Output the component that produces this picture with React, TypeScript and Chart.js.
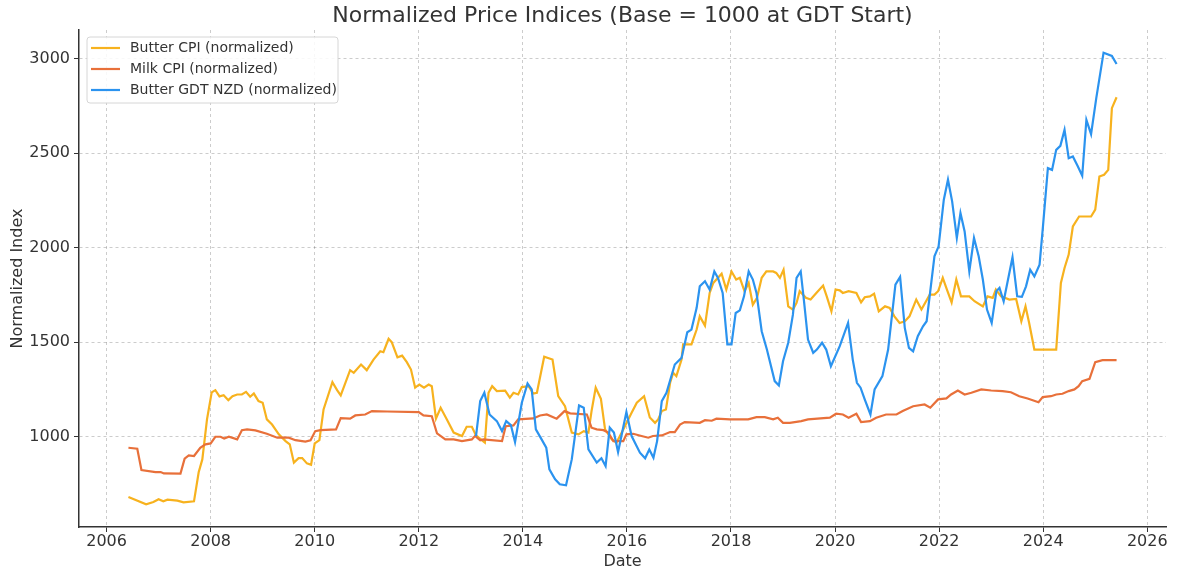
import React, { useEffect, useRef } from "react";
import { Chart, registerables } from "chart.js";

Chart.register(...registerables);

const chartTitle = "Normalized Price Indices (Base = 1000 at GDT Start)";
const xAxisTitle = "Date";
const yAxisTitle = "Normalized Index";
const seriesNames = ["Butter CPI (normalized)", "Milk CPI (normalized)", "Butter GDT NZD (normalized)"];
const seriesColors = ["#f7b21e", "#e8703a", "#2b93ef"];

const xTicks = [2006, 2008, 2010, 2012, 2014, 2016, 2018, 2020, 2022, 2024, 2026];
const yTicks = [1000, 1500, 2000, 2500, 3000];

const butterCpiDates = [
  2006.42, 2006.76, 2006.9, 2007.0, 2007.09, 2007.17, 2007.36, 2007.48, 2007.68, 2007.77, 2007.84, 2007.93,
  2008.02, 2008.09, 2008.17, 2008.25, 2008.34, 2008.42, 2008.51, 2008.6, 2008.68, 2008.76, 2008.83, 2008.92,
  2009.0, 2009.08, 2009.18, 2009.31, 2009.44, 2009.52, 2009.6, 2009.69, 2009.76, 2009.85, 2009.93,
  2010.0, 2010.09, 2010.17, 2010.34, 2010.43, 2010.5, 2010.68, 2010.75, 2010.89,
  2011.0, 2011.13, 2011.26, 2011.32, 2011.42, 2011.48, 2011.59, 2011.68, 2011.77, 2011.85, 2011.93,
  2012.01, 2012.1, 2012.19, 2012.25, 2012.33, 2012.42, 2012.54, 2012.67, 2012.83, 2012.92,
  2013.02, 2013.1, 2013.27, 2013.34, 2013.41, 2013.5, 2013.66, 2013.75, 2013.82, 2013.91, 2013.98,
  2014.11, 2014.2, 2014.27, 2014.41, 2014.57, 2014.68, 2014.81, 2014.94,
  2015.07, 2015.17, 2015.26, 2015.32, 2015.4, 2015.5, 2015.58, 2015.71, 2015.8, 2015.93,
  2016.09, 2016.19, 2016.33, 2016.44, 2016.54, 2016.6, 2016.67, 2016.75, 2016.83, 2016.89, 2016.95,
  2017.05, 2017.08, 2017.24, 2017.34, 2017.4, 2017.5, 2017.59, 2017.66, 2017.75, 2017.82, 2017.91,
  2018.01, 2018.1, 2018.17, 2018.26, 2018.34, 2018.42, 2018.5, 2018.59, 2018.68, 2018.81, 2018.87, 2018.94,
  2019.01, 2019.1, 2019.19, 2019.26, 2019.32, 2019.44, 2019.53, 2019.64, 2019.77, 2019.84, 2019.93,
  2020.01, 2020.09, 2020.15, 2020.26, 2020.41, 2020.5, 2020.57, 2020.67, 2020.75, 2020.84, 2020.96,
  2021.05, 2021.14, 2021.24, 2021.34, 2021.43, 2021.56, 2021.66, 2021.82, 2021.91, 2021.98,
  2022.07, 2022.15, 2022.24, 2022.33, 2022.42, 2022.58, 2022.68, 2022.84, 2022.93,
  2023.03, 2023.09, 2023.19, 2023.35, 2023.48, 2023.58, 2023.66, 2023.73, 2023.83,
  2024.18, 2024.25, 2024.34, 2024.41, 2024.49, 2024.57, 2024.69, 2024.92,
  2025.0, 2025.08, 2025.17, 2025.25, 2025.32, 2025.41,
];
const butterCpiValues = [
  679, 640, 652, 667, 656, 665, 660, 651, 656, 810, 878, 1090,
  1233, 1245, 1212, 1218, 1192, 1213, 1222, 1222, 1236, 1210, 1227, 1187,
  1178, 1090, 1063, 1011, 975, 958, 861, 885, 885, 857, 850,
  963, 980, 1143, 1287, 1245, 1217, 1351, 1337, 1381,
  1351, 1407, 1451, 1446, 1517, 1499, 1419, 1428, 1393, 1354, 1258,
  1275, 1258, 1275, 1266, 1094, 1152, 1090, 1020, 1002, 1051,
  1051, 1005, 967, 1231, 1266, 1240, 1243, 1205, 1231, 1222, 1261,
  1266, 1227, 1231, 1422, 1407, 1213, 1160, 1020,
  1011, 1028, 1020, 1134, 1258, 1199, 1037, 984, 967, 1037,
  1125, 1178, 1213, 1100, 1072, 1090, 1134, 1143, 1284, 1337, 1319,
  1407, 1487, 1487, 1566, 1636, 1587, 1760, 1813, 1840, 1862, 1778,
  1874, 1831, 1840, 1769, 1813, 1698, 1734, 1840, 1874, 1874, 1866, 1840,
  1883, 1689, 1672, 1707, 1769, 1734, 1725, 1760, 1799, 1742, 1663,
  1778, 1774, 1760, 1769, 1760, 1710, 1737, 1742, 1756, 1663, 1689,
  1681, 1636, 1601, 1610, 1636, 1725, 1672, 1751, 1751, 1769,
  1840, 1778, 1710, 1831, 1742, 1742, 1716, 1689, 1742,
  1734, 1778, 1742, 1725, 1728, 1610, 1689, 1601, 1460,
  1460, 1460, 1813, 1892, 1963, 2112, 2165, 2165,
  2201, 2377, 2386, 2412, 2739, 2797,
];

const milkCpiDates = [
  2006.42, 2006.59, 2006.67, 2006.94, 2007.04, 2007.1, 2007.42, 2007.5, 2007.58, 2007.68, 2007.8, 2007.9,
  2008.0, 2008.09, 2008.19, 2008.26, 2008.35, 2008.51, 2008.6, 2008.7, 2008.86,
  2009.08, 2009.28, 2009.5, 2009.63, 2009.82, 2009.92,
  2010.01, 2010.11, 2010.41, 2010.5, 2010.68, 2010.78, 2010.97,
  2011.1, 2011.39, 2012.0, 2012.09, 2012.25, 2012.35, 2012.51, 2012.67, 2012.83,
  2013.02, 2013.08, 2013.18, 2013.24, 2013.6, 2013.67, 2013.82, 2013.91,
  2014.2, 2014.33, 2014.46, 2014.65, 2014.8, 2014.91,
  2015.23, 2015.32, 2015.42, 2015.55, 2015.64, 2015.74, 2015.93, 2015.99,
  2016.12, 2016.28, 2016.41, 2016.5, 2016.67, 2016.83, 2016.92,
  2017.02, 2017.11, 2017.4, 2017.5, 2017.63, 2017.72, 2017.98,
  2018.33, 2018.49, 2018.65, 2018.81, 2018.9, 2019.0, 2019.13, 2019.35, 2019.48, 2019.9,
  2020.02, 2020.15, 2020.26, 2020.41, 2020.5, 2020.67, 2020.79, 2020.98,
  2021.18, 2021.3, 2021.5, 2021.72, 2021.83, 2021.98,
  2022.14, 2022.23, 2022.36, 2022.49, 2022.62, 2022.81,
  2023.0, 2023.22, 2023.38, 2023.54, 2023.7, 2023.91, 2023.99,
  2024.15, 2024.25, 2024.37, 2024.49, 2024.6, 2024.68, 2024.75, 2024.89,
  2025.0, 2025.14, 2025.41,
];
const milkCpiValues = [
  940, 935, 822, 811, 811, 804, 803, 882, 899, 896, 940, 958,
  963, 998, 998, 989, 998, 984, 1033, 1037, 1032,
  1014, 993, 993, 980, 972, 979,
  1028, 1033, 1037, 1097, 1094, 1111, 1116,
  1134, 1132, 1129, 1111, 1107, 1016, 984, 984, 975,
  984, 1002, 979, 984, 975, 1054, 1058, 1090,
  1095, 1111, 1116, 1094, 1134, 1122,
  1116, 1046, 1037, 1033, 1020, 975, 975, 1011,
  1014, 1002, 993, 1002, 1005, 1023, 1023,
  1063, 1076, 1072, 1086, 1083, 1094, 1090,
  1090, 1102, 1102, 1090, 1099, 1072, 1072, 1081, 1090, 1099,
  1120, 1116, 1099, 1120, 1076, 1081, 1099, 1116,
  1116, 1134, 1160, 1169, 1152, 1196,
  1201, 1222, 1243, 1222, 1231, 1249,
  1243, 1240, 1234, 1213, 1201, 1181, 1208,
  1213, 1222, 1226, 1240, 1249, 1266, 1293, 1305,
  1393, 1404, 1404,
];

const gdtDates = [
  2013.1, 2013.18, 2013.26, 2013.36, 2013.5, 2013.6, 2013.68, 2013.77, 2013.85, 2013.98,
  2014.09, 2014.17, 2014.25, 2014.36, 2014.45, 2014.51, 2014.62, 2014.71, 2014.83, 2014.94,
  2015.08, 2015.17, 2015.26, 2015.42, 2015.51, 2015.59, 2015.67, 2015.75, 2015.83, 2015.99,
  2016.09, 2016.25, 2016.35, 2016.43, 2016.51, 2016.58, 2016.67, 2016.76, 2016.92,
  2017.05, 2017.16, 2017.24, 2017.34, 2017.4, 2017.5, 2017.59, 2017.68, 2017.75, 2017.84, 2017.93,
  2018.01, 2018.09, 2018.17, 2018.25, 2018.34, 2018.42, 2018.49, 2018.59, 2018.69, 2018.84, 2018.92,
  2019.0, 2019.1, 2019.19, 2019.26, 2019.34, 2019.4, 2019.48, 2019.58, 2019.65, 2019.75, 2019.83, 2019.92,
  2020.09, 2020.25, 2020.34, 2020.42, 2020.49, 2020.57, 2020.68, 2020.76, 2020.91,
  2021.02, 2021.16, 2021.25, 2021.34, 2021.42, 2021.5, 2021.59, 2021.69, 2021.76, 2021.91, 2021.99,
  2022.09, 2022.17, 2022.25, 2022.34, 2022.41, 2022.49, 2022.58, 2022.67, 2022.76, 2022.84, 2022.92,
  2023.01, 2023.1, 2023.16, 2023.24, 2023.41, 2023.5, 2023.59, 2023.67, 2023.75, 2023.83, 2023.93, 2023.99,
  2024.09, 2024.17, 2024.25, 2024.33, 2024.41, 2024.49, 2024.57, 2024.66, 2024.75, 2024.83, 2024.92,
  2025.02, 2025.16, 2025.32, 2025.41,
];
const gdtValues = [
  1002, 1187, 1231, 1116, 1081, 1028, 1081, 1060, 970, 1178,
  1280, 1249, 1037, 984, 940, 825, 773, 746, 741, 878,
  1164, 1152, 931, 861, 884, 843, 1046, 1020, 917, 1129,
  1002, 914, 884, 931, 887, 975, 1187, 1231, 1381,
  1416, 1552, 1566, 1681, 1795, 1822, 1778, 1874, 1840, 1760, 1487,
  1487, 1654, 1668, 1742, 1874, 1831, 1760, 1557, 1460, 1293, 1270,
  1398, 1496, 1645, 1840, 1874, 1725, 1513, 1443, 1460, 1496, 1460, 1372,
  1478, 1601, 1407, 1284, 1258, 1196, 1116, 1249, 1319,
  1460, 1804, 1845, 1575, 1469, 1451, 1531, 1583, 1610, 1954, 2007,
  2254, 2360, 2245, 2051, 2183, 2086, 1874, 2051, 1954, 1831, 1672,
  1601, 1769, 1787, 1716, 1949, 1742, 1739, 1795, 1883, 1848, 1910, 2095,
  2421, 2412, 2518, 2539, 2624, 2474, 2483, 2434, 2381, 2677, 2601,
  2792, 3033, 3016, 2973,
];

const xMin = 2005.47;
const xMax = 2026.36;
const yMin = 520;
const yMax = 3153;

const FONT = "'DejaVu Sans', sans-serif";
const TEXT = "#333333";

const toPoints = (xs: number[], ys: number[]) => xs.map((x, i) => ({ x, y: ys[i] }));

const overlayPlugin = {
  id: "overlay",
  afterDraw(chart: any) {
    const { ctx, chartArea } = chart;
    ctx.save();
    ctx.fillStyle = TEXT;
    ctx.font = `22px ${FONT}`;
    ctx.textAlign = "center";
    ctx.textBaseline = "middle";
    ctx.fillText(chartTitle, (chartArea.left + chartArea.right) / 2, 16);
    const bx = chartArea.left + 8;
    const by = chartArea.top + 7;
    const bw = 251;
    const bh = 66;
    ctx.beginPath();
    ctx.roundRect(bx, by, bw, bh, 3);
    ctx.fillStyle = "rgba(255,255,255,0.85)";
    ctx.fill();
    ctx.strokeStyle = "#d6d6d6";
    ctx.lineWidth = 1;
    ctx.stroke();
    ctx.font = `14px ${FONT}`;
    ctx.textAlign = "left";
    seriesNames.forEach((name, i) => {
      const y = by + 11 + i * 21;
      ctx.beginPath();
      ctx.strokeStyle = seriesColors[i];
      ctx.lineWidth = 2.2;
      ctx.moveTo(bx + 4, y);
      ctx.lineTo(bx + 33, y);
      ctx.stroke();
      ctx.fillStyle = TEXT;
      ctx.fillText(name, bx + 43, y);
    });
    ctx.restore();
  },
};

export default function App() {
  const canvasRef = useRef<HTMLCanvasElement | null>(null);

  useEffect(() => {
    document.body.style.margin = "0";
    const canvas = canvasRef.current;
    if (!canvas) return;
    const mk = (i: number, data: { x: number; y: number }[], order: number) => ({
      label: seriesNames[i],
      data,
      borderColor: seriesColors[i],
      backgroundColor: seriesColors[i],
      borderWidth: 2.2,
      pointRadius: 0,
      tension: 0,
      order,
    });
    const chart = new Chart(canvas, {
      type: "line",
      data: {
        datasets: [
          mk(0, toPoints(butterCpiDates, butterCpiValues), 2),
          mk(1, toPoints(milkCpiDates, milkCpiValues), 1),
          mk(2, toPoints(gdtDates, gdtValues), 0),
        ],
      },
      options: {
        responsive: false,
        animation: false,
        devicePixelRatio: 1,
        layout: { padding: { top: 30, right: 13, left: 0, bottom: 0 } },
        plugins: {
          legend: { display: false },
          title: { display: false },
          tooltip: { enabled: false },
        },
        scales: {
          x: {
            type: "linear",
            min: xMin,
            max: xMax,
            afterBuildTicks: (scale: any) => {
              scale.ticks = xTicks.map((v) => ({ value: v }));
            },
            afterFit: (scale: any) => {
              scale.height = 44;
            },
            ticks: {
              autoSkip: false,
              maxRotation: 0,
              padding: 0,
              color: TEXT,
              font: { family: FONT, size: 16 },
              callback: (v: any) => String(v),
            },
            grid: {
              color: "rgba(0,0,0,0.2)",
              lineWidth: 1,
              tickLength: 5,
              tickColor: "#333333",
              tickWidth: 1,
            },
            border: { display: true, color: "#333333", width: 1.5, dash: [3, 3] },
            title: {
              display: true,
              text: xAxisTitle,
              color: TEXT,
              font: { family: FONT, size: 16 },
              padding: { top: 0, bottom: 0 },
            },
          },
          y: {
            type: "linear",
            min: yMin,
            max: yMax,
            afterBuildTicks: (scale: any) => {
              scale.ticks = yTicks.map((v) => ({ value: v }));
            },
            afterFit: (scale: any) => {
              scale.width = 79;
            },
            ticks: {
              padding: 4,
              color: TEXT,
              font: { family: FONT, size: 16 },
              callback: (v: any) => String(v),
            },
            grid: {
              color: "rgba(0,0,0,0.2)",
              lineWidth: 1,
              tickLength: 5,
              tickColor: "#333333",
              tickWidth: 1,
            },
            border: { display: true, color: "#333333", width: 1.5, dash: [3, 3] },
            title: {
              display: true,
              text: yAxisTitle,
              color: TEXT,
              font: { family: FONT, size: 16 },
              padding: { top: 8, bottom: 0 },
            },
          },
        },
      },
      plugins: [overlayPlugin],
    });
    return () => chart.destroy();
  }, []);

  return (
    <div style={{ position: "fixed", left: 0, top: 0, width: 1179, height: 571, background: "#fff" }}>
      <canvas ref={canvasRef} width={1179} height={571} />
    </div>
  );
}
